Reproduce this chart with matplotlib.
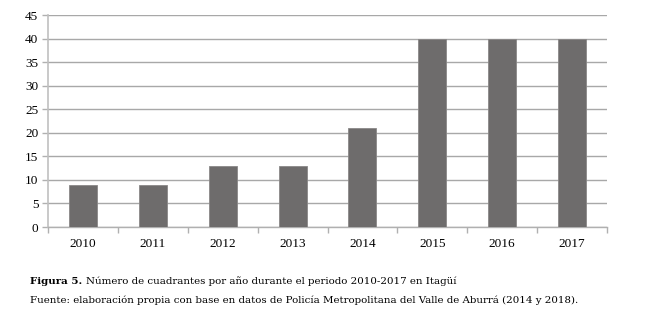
import matplotlib
matplotlib.use("Agg")
import matplotlib.pyplot as plt
import numpy as np

years = ["2010", "2011", "2012", "2013", "2014", "2015", "2016", "2017"]
values = [9, 9, 13, 13, 21, 40, 40, 40]
yticks = [0, 5, 10, 15, 20, 25, 30, 35, 40, 45]

fig = plt.figure(figsize=(6.5, 3.2), dpi=100)
ax = fig.add_axes([48/650, 1-227/320, (607-48)/650, (227-15)/320])

x = np.arange(len(years))
ax.bar(x, values, width=0.4, color="#6e6c6c", edgecolor="#8a8888", linewidth=0.6, zorder=3)
ax.set_xlim(-0.5, len(years)-0.5)
ax.set_ylim(0, 45)
ax.set_yticks(yticks)
ax.set_yticklabels([str(v) for v in yticks], fontfamily="Liberation Serif", fontsize=9.5)
ax.yaxis.grid(True, color="#a8a8a8", linewidth=1.0, zorder=0)
ax.set_xticks(x)
ax.set_xticklabels(years, fontfamily="Liberation Serif", fontsize=9.5)
ax.tick_params(axis="x", length=0, pad=8)
ax.set_xticks(np.arange(-0.5, len(years)), minor=True)
ax.tick_params(axis="x", which="minor", length=4, color="#b0b0b0", width=1)
ax.tick_params(axis="y", length=4, color="#b0b0b0", width=1, pad=3)
for s in ["top", "right"]:
    ax.spines[s].set_visible(False)
ax.spines["left"].set_color("#c0c0c0")
ax.spines["left"].set_linewidth(1.2)
ax.spines["bottom"].set_color("#b0b0b0")
ax.spines["bottom"].set_linewidth(1.0)

fs = 7.35
t1 = fig.text(30/650, 1-281/320, "Figura 5.", fontfamily="DejaVu Serif", fontweight="bold",
              fontsize=fs, va="center", ha="left")
fig.canvas.draw()
bb = t1.get_window_extent()
x2 = (bb.x1 + 4) / fig.bbox.width
fig.text(x2, 1-281/320, "Número de cuadrantes por año durante el periodo 2010-2017 en Itagüí",
         fontfamily="DejaVu Serif", fontsize=fs, va="center", ha="left")
fig.text(30/650, 1-300/320,
         "Fuente: elaboración propia con base en datos de Policía Metropolitana del Valle de Aburrá (2014 y 2018).",
         fontfamily="DejaVu Serif", fontsize=fs, va="center", ha="left")

fig.savefig("out.png", dpi=100)
